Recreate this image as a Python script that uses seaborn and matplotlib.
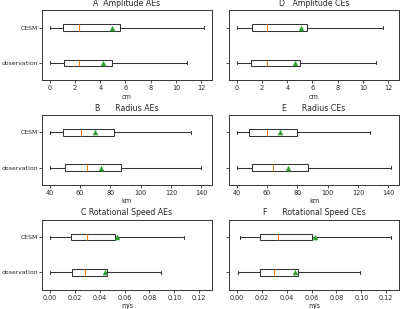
import matplotlib
matplotlib.use("Agg")
import matplotlib.pyplot as plt
import seaborn as sns

sns.set_style("ticks")
plt.rcParams["font.family"] = ["DejaVu Sans"]

groups = ["CESM", "observation"]

# five-number summaries: [min, Q1, median, Q3, max]
amp_ae_cesm = [0.05, 1.05, 2.33, 5.55, 12.25]
amp_ae_obs = [0.0, 1.10, 2.33, 4.97, 10.9]
amp_ae_means = [4.97, 4.23]

amp_ce_cesm = [0.02, 1.18, 2.42, 5.57, 11.6]
amp_ce_obs = [0.0, 1.15, 2.40, 5.03, 11.0]
amp_ce_means = [5.13, 4.58]

rad_ae_cesm = [40.0, 48.8, 60.4, 82.6, 133.5]
rad_ae_obs = [40.0, 50.1, 64.4, 87.0, 140.0]
rad_ae_means = [70.1, 73.6]

rad_ce_cesm = [40.0, 48.1, 59.7, 79.9, 128.0]
rad_ce_obs = [40.0, 50.1, 63.9, 86.9, 142.0]
rad_ce_means = [68.3, 73.8]

rot_ae_cesm = [0.0006, 0.0170, 0.0298, 0.0527, 0.108]
rot_ae_obs = [0.0, 0.0176, 0.0287, 0.0460, 0.089]
rot_ae_means = [0.0540, 0.0446]

rot_ce_cesm = [0.0026, 0.0187, 0.0334, 0.0605, 0.124]
rot_ce_obs = [0.0010, 0.0187, 0.0297, 0.0490, 0.099]
rot_ce_means = [0.0626, 0.0468]

titles = ["A  Amplitude AEs", "D   Amplitude CEs",
          "B      Radius AEs", "E      Radius CEs",
          "C Rotational Speed AEs", "F      Rotational Speed CEs"]
xlabels = ["cm", "km", "m/s"]
xticks = [[0, 2, 4, 6, 8, 10, 12],
          [40, 60, 80, 100, 120, 140],
          [0.00, 0.02, 0.04, 0.06, 0.08, 0.10, 0.12]]
xtickfmt = ["{:g}", "{:g}", "{:.2f}"]

panels = [
    (amp_ae_cesm, amp_ae_obs, amp_ae_means), (amp_ce_cesm, amp_ce_obs, amp_ce_means),
    (rad_ae_cesm, rad_ae_obs, rad_ae_means), (rad_ce_cesm, rad_ce_obs, rad_ce_means),
    (rot_ae_cesm, rot_ae_obs, rot_ae_means), (rot_ce_cesm, rot_ce_obs, rot_ce_means),
]

fig, axes = plt.subplots(3, 2, figsize=(4.0, 3.09), dpi=100, sharex="row")
fig.subplots_adjust(left=0.105, right=0.9975, top=0.9676, bottom=0.0615,
                    wspace=0.1, hspace=0.49)

fs = 4.7
for i, (cesm, obs, means) in enumerate(panels):
    ax = axes[i // 2, i % 2]
    vals = list(cesm) + list(obs)
    labs = [groups[0]] * len(cesm) + [groups[1]] * len(obs)
    sns.boxplot(x=vals, y=labs, order=groups, orient="h", whis=(0, 100),
                width=0.18, color="white", linecolor="#333333", linewidth=0.75,
                saturation=1, showfliers=False,
                medianprops=dict(color="#ff7f0e", linewidth=0.8, zorder=4), ax=ax)
    sns.stripplot(x=means, y=groups, order=groups, orient="h", jitter=False,
                  marker="^", color="#2ca02c", size=4.0, linewidth=0,
                  ax=ax, zorder=5)
    r = i // 2
    ax.set_xticks(xticks[r])
    ax.set_xticklabels([xtickfmt[r].format(t) for t in xticks[r]])
    ax.set_xlabel(xlabels[r], fontsize=fs, labelpad=1.5)
    ax.set_ylabel("")
    ax.set_title(titles[i], fontsize=5.6, pad=3)
    ax.tick_params(axis="x", labelsize=fs, length=2.2, width=0.6, pad=1.5,
                   color="#333333")
    ax.tick_params(axis="y", labelsize=4.45, length=2.0, width=0.6, pad=1.0,
                   color="#333333")
    for s in ax.spines.values():
        s.set_linewidth(0.7)
        s.set_color("#333333")
    if i % 2 == 1:
        ax.set_yticks([0, 1])
        ax.set_yticklabels([])
    ax.set_ylim(1.5, -0.5)

fig.savefig("out.png", dpi=100)
